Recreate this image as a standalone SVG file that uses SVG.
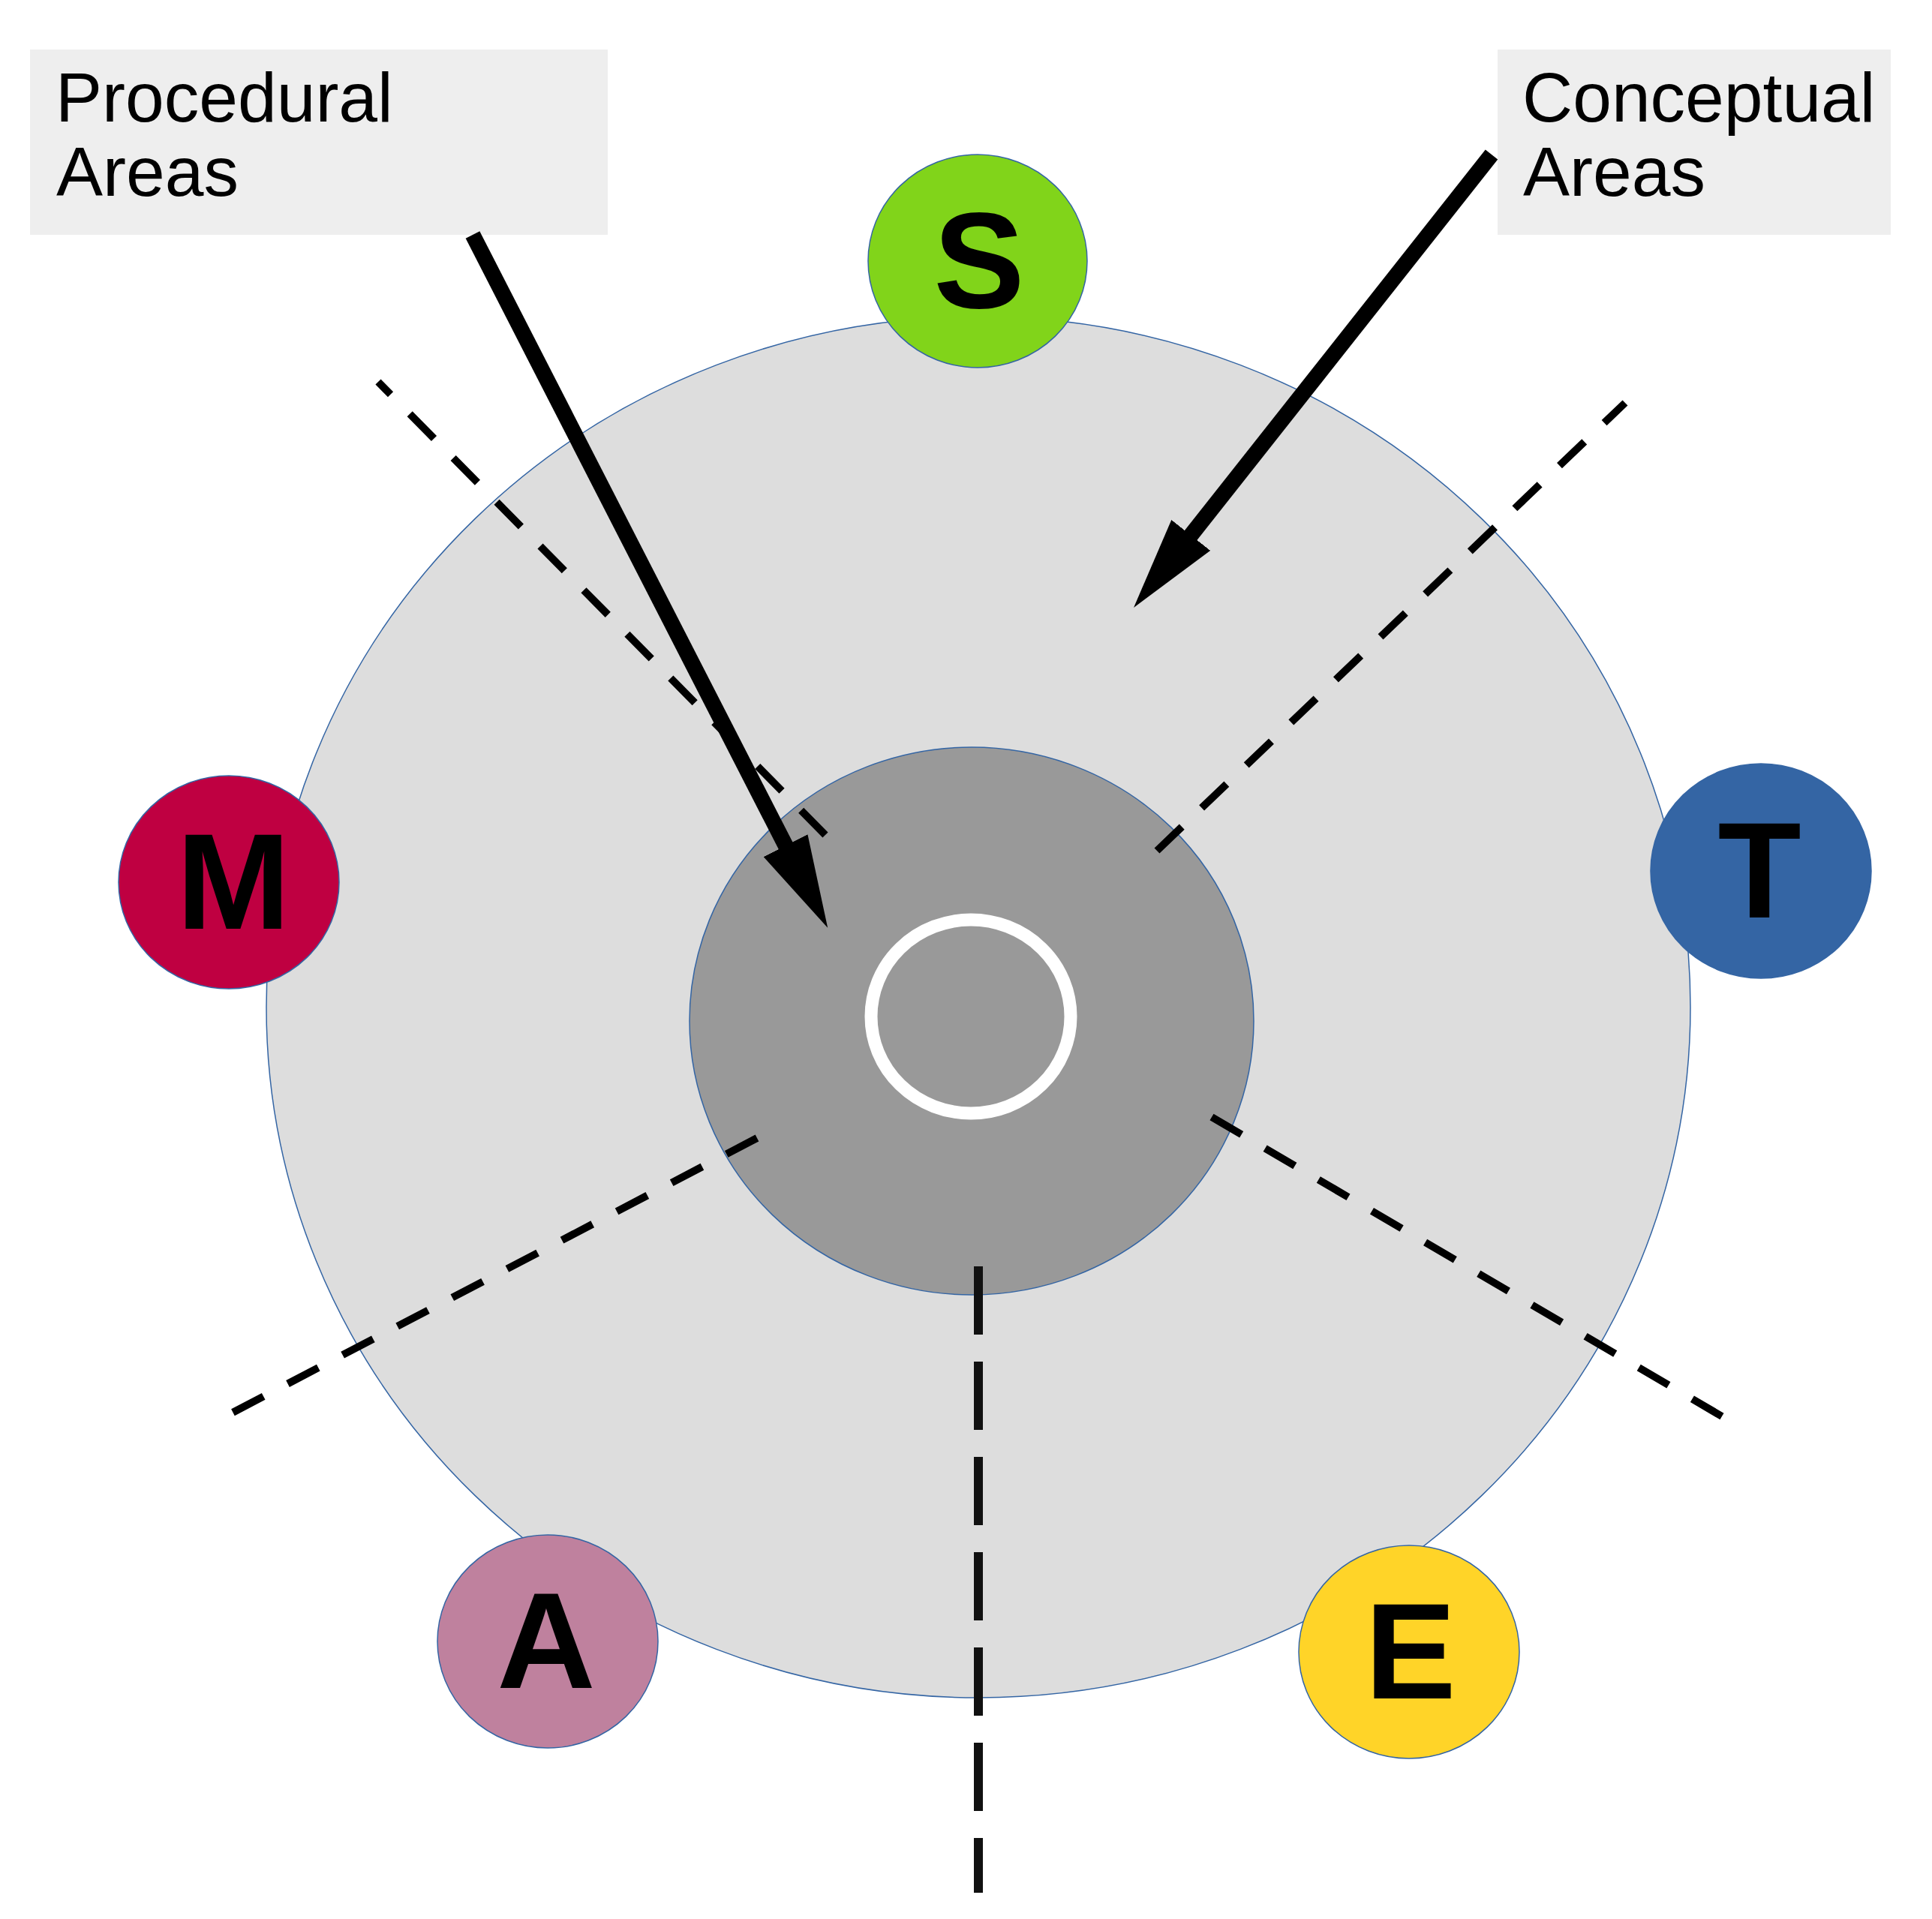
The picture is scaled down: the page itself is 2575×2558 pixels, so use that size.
<svg xmlns="http://www.w3.org/2000/svg" width="2575" height="2558" viewBox="0 0 2575 2558">
<style>
.lbl{font-family:"Liberation Sans",Arial,sans-serif;font-size:93px;fill:#000}
.ltr{font-family:"Liberation Sans",Arial,sans-serif;font-weight:bold;font-size:182px;fill:#000;text-anchor:middle}
.node{stroke:#3465a4;stroke-width:1.5}
.div{fill:none;stroke:#000;stroke-width:10;stroke-dasharray:46 36.5}
.divv{fill:none;stroke:#111;stroke-width:12;stroke-dasharray:91 36}
.arr{fill:none;stroke:#000;stroke-width:21}
</style>
<defs>
<marker id="head" viewBox="0 0 123 66" markerWidth="123" markerHeight="66" refX="2" refY="33" orient="auto" markerUnits="userSpaceOnUse">
<path d="M0,0 L123,33 L0,66 z" fill="#000"/>
</marker>
</defs>
<rect width="2575" height="2558" fill="#fff"/>
<g id="outer-ring"><ellipse cx="1304" cy="1342.5" rx="949" ry="920.5" fill="#dddddd" class="node"/></g>
<g id="inner-ring"><ellipse cx="1295" cy="1361" rx="376" ry="365" fill="#999999" class="node"/></g>
<g id="core"><ellipse cx="1294" cy="1355" rx="133" ry="129" fill="none" stroke="#fff" stroke-width="17"/></g>
<g id="node-S"><ellipse cx="1303" cy="348" rx="146" ry="142" fill="#81d41a" class="node"/><text x="1305" y="410" class="ltr">S</text></g>
<g id="node-M"><ellipse cx="305" cy="1176" rx="147" ry="142" fill="#bf0041" class="node"/><text x="311" y="1238" class="ltr">M</text></g>
<g id="node-T"><ellipse cx="2347" cy="1161" rx="147" ry="143" fill="#3465a4" class="node"/><text x="2345" y="1223" class="ltr">T</text></g>
<g id="node-A"><ellipse cx="730" cy="2188" rx="147" ry="142" fill="#bf819e" class="node"/><text x="728" y="2250" class="ltr">A</text></g>
<g id="node-E"><ellipse cx="1878" cy="2202" rx="147" ry="142" fill="#ffd428" class="node"/><text x="1880" y="2264" class="ltr">E</text></g>
<g id="procedural-label"><rect x="40" y="66" width="770" height="247" fill="#eeeeee"/><text class="lbl" x="74" y="162">Procedural</text><text class="lbl" x="75" y="261">Areas</text></g>
<g id="conceptual-label"><rect x="1996" y="66" width="524" height="247" fill="#eeeeee"/><text class="lbl" x="2029" y="162">Conceptual</text><text class="lbl" x="2030" y="261">Areas</text></g>
<g id="connectors">
<line class="div" x1="1100" y1="1113" x2="504" y2="509"/>
<line class="div" x1="1542" y1="1134" x2="2166" y2="537"/>
<line class="div" x1="1009" y1="1517" x2="308" y2="1884"/>
<line class="div" x1="1615" y1="1489" x2="2295" y2="1888"/>
<line class="divv" x1="1304" y1="1688" x2="1304" y2="2523"/>
<line class="arr" x1="630" y1="313" x2="1048" y2="1129" marker-end="url(#head)"/>
<line class="arr" x1="1988" y1="206" x2="1586" y2="715" marker-end="url(#head)"/>
</g>
</svg>
